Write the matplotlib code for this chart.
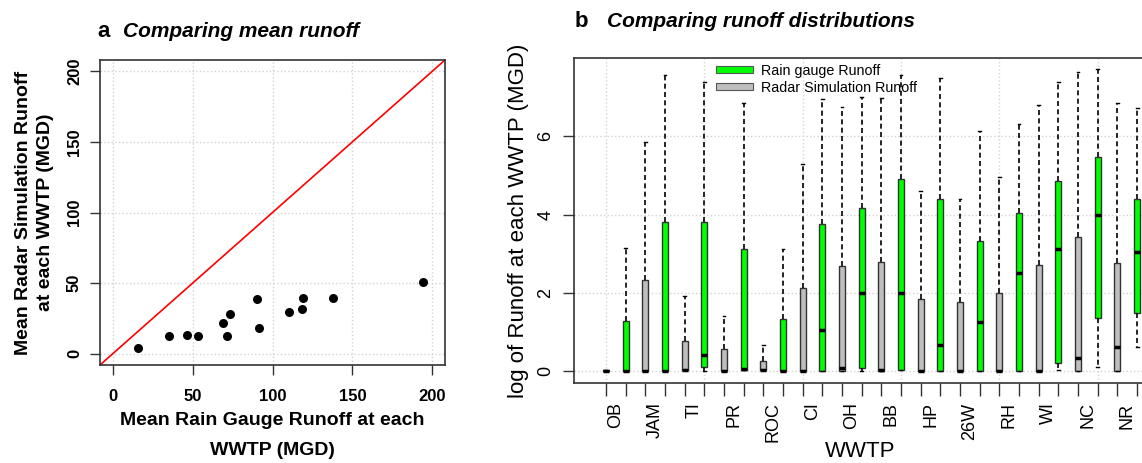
import numpy as np
import matplotlib
matplotlib.use('Agg')
import matplotlib.pyplot as plt
from matplotlib.patches import Patch

plt.rcParams['font.family'] = ['Liberation Sans', 'DejaVu Sans']

# panel a: mean runoff at each WWTP (MGD)
gauge_mean = [16.1, 35.5, 46.3, 53.2, 69.1, 73.5, 71.8, 90.0, 91.6, 110.4, 118.4, 119.0, 137.6, 194.4]
radar_mean = [4.0, 12.7, 12.9, 12.7, 21.4, 28.0, 12.5, 38.4, 17.9, 29.4, 32.0, 39.1, 39.3, 50.6]

# panel b: box stats of log runoff
wwtp = ['OB', 'JAM', 'TI', 'PR', 'ROC', 'CI', 'OH', 'BB', 'HP', '26W', 'RH', 'WI', 'NC', 'NR']

radar_lo = [0, 0, 0.02, 0, 0.02, 0, 0, 0, 0, 0, 0, 0, 0, 0]
radar_q1 = [0, 0, 0.02, 0, 0.02, 0, 0, 0, 0, 0, 0, 0, 0, 0]
radar_med = [0, 0, 0.02, 0, 0.02, 0, 0.09, 0.02, 0, 0, 0, 0, 0.35, 0.63]
radar_q3 = [0.03, 2.34, 0.77, 0.56, 0.26, 2.12, 2.70, 2.80, 1.84, 1.76, 1.99, 2.72, 3.44, 2.77]
radar_hi = [0.03, 5.86, 1.93, 1.41, 0.66, 5.30, 6.75, 6.99, 4.60, 4.39, 4.97, 6.80, 7.65, 6.86]

gauge_lo = [0, 0, 0, 0.02, 0, 0, 0, 0.04, 0, 0, 0, 0.03, 0.12, 0.63]
gauge_q1 = [0, 0, 0.12, 0.02, 0, 0, 0.08, 0.04, 0, 0, 0, 0.22, 1.36, 1.48]
gauge_med = [0, 0, 0.41, 0.05, 0, 1.05, 2.0, 2.0, 0.67, 1.25, 2.50, 3.11, 3.99, 3.05]
gauge_q3 = [1.28, 3.80, 3.82, 3.12, 1.34, 3.76, 4.17, 4.92, 4.41, 3.32, 4.05, 4.86, 5.47, 4.41]
gauge_hi = [3.16, 7.57, 7.39, 6.84, 3.13, 6.96, 7.01, 7.57, 7.50, 6.13, 6.32, 7.39, 7.72, 6.72]

W, H = 1142, 463
fig = plt.figure(figsize=(W/100, H/100), dpi=100)
spc = '#333333'
gridc = '#d3d3d3'

#---------------- panel a
ax1 = fig.add_axes([100/W, 1-365/H, 345/W, 305/H])
ax1.set_xlim(-8, 208)
ax1.set_ylim(-8, 208)
ax1.set_xticks([0, 50, 100, 150, 200])
ax1.set_yticks([0, 50, 100, 150, 200])
ax1.grid(True, color=gridc, linestyle=':', linewidth=1)
ax1.set_axisbelow(True)
ax1.plot([-8, 208], [-8, 208], color='red', lw=1.2, zorder=2)
ax1.scatter(gauge_mean, radar_mean, s=30, color='black', zorder=3)
ax1.tick_params(axis='both', length=7, width=1, color=spc, labelsize=12)
ax1.tick_params(axis='x', pad=10)
ax1.tick_params(axis='y', pad=6, labelrotation=90)
for t in ax1.get_yticklabels():
    t.set_va('center')
for t in ax1.get_xticklabels() + ax1.get_yticklabels():
    t.set_fontweight('bold')
for s in ax1.spines.values():
    s.set_color(spc)
    s.set_linewidth(1.2)
ax1.set_xlabel('Mean Rain Gauge Runoff at each\nWWTP (MGD)', fontsize=14, fontweight='bold',
               linespacing=2.0, labelpad=6)
ax1.set_ylabel('Mean Radar Simulation Runoff\nat each WWTP (MGD)', fontsize=14, fontweight='bold',
               linespacing=1.45, labelpad=9)

fig.text(97/W, 1-37/H, 'a', fontsize=16, fontweight='bold', va='baseline')
fig.text(123/W, 1-37/H, 'Comparing mean runoff', fontsize=15, fontweight='bold',
         style='italic', va='baseline')

#---------------- panel b
ax2 = fig.add_axes([574/W, 1-383/H, (1169-574)/W, 325/H])
n = len(wwtp)
stats = []
colors = []
for i in range(n):
    stats.append(dict(whislo=radar_lo[i], q1=radar_q1[i], med=radar_med[i], q3=radar_q3[i], whishi=radar_hi[i]))
    colors.append('#bebebe')
    stats.append(dict(whislo=gauge_lo[i], q1=gauge_q1[i], med=gauge_med[i], q3=gauge_q3[i], whishi=gauge_hi[i]))
    colors.append('#00ff00')
pos = np.arange(1, 2*n+1)
bp = ax2.bxp(stats, positions=pos, widths=0.3, showfliers=False, patch_artist=True,
             capwidths=0.14,
             boxprops=dict(edgecolor=spc, linewidth=1),
             whiskerprops=dict(color='black', linewidth=1.2, linestyle=(0, (3, 2))),
             capprops=dict(color='black', linewidth=1),
             medianprops=dict(color='black', linewidth=2.5, solid_capstyle='butt'))
for b, c in zip(bp['boxes'], colors):
    b.set_facecolor(c)

ax2.set_xlim(0.5 - 0.04*2*n, 2*n + 0.5 + 0.04*2*n)
ax2.set_ylim(-0.3, 8.0)
ax2.set_yticks([0, 2, 4, 6])
ax2.set_xticks(pos)
ax2.set_xticklabels([])
for xg in pos[::5]:
    ax2.axvline(xg, color=gridc, linestyle=':', linewidth=1, zorder=0)
for yg in [0, 2, 4, 6]:
    ax2.axhline(yg, color=gridc, linestyle=':', linewidth=1, zorder=0)
ax2.set_xticks(pos[::2] + 0.5, minor=True)
ax2.set_xticklabels(wwtp, minor=True, rotation=90, fontsize=13)
ax2.tick_params(axis='x', which='minor', length=0, pad=14)
ax2.tick_params(axis='x', which='major', length=9, width=1, color=spc)
ax2.tick_params(axis='y', length=8, width=1, color=spc, labelsize=13, pad=6, labelrotation=90)
for t in ax2.get_yticklabels():
    t.set_va('center')
for s in ax2.spines.values():
    s.set_color(spc)
    s.set_linewidth(1.2)
ax2.set_xlabel('WWTP', fontsize=16)
ax2.xaxis.set_label_coords((860-574)/(1169-574), (383-441)/325)
ax2.set_ylabel('log of Runoff at each WWTP (MGD)', fontsize=16, labelpad=6)

handles = [Patch(facecolor='#00ff00', edgecolor='#555555', linewidth=0.8),
           Patch(facecolor='#bebebe', edgecolor='#555555', linewidth=0.8)]
fig.legend(handles, ['Rain gauge Runoff', 'Radar Simulation Runoff'],
           loc='upper left', bbox_to_anchor=(716/W, 1-64/H), frameon=False, fontsize=10.3,
           handlelength=2.6, handleheight=0.35, handletextpad=0.55, labelspacing=0.2,
           borderpad=0, borderaxespad=0)

fig.text(575/W, 1-27/H, 'b', fontsize=16, fontweight='bold', va='baseline')
fig.text(607/W, 1-27/H, 'Comparing runoff distributions', fontsize=15, fontweight='bold',
         style='italic', va='baseline')

fig.savefig('out.png', dpi=100)
